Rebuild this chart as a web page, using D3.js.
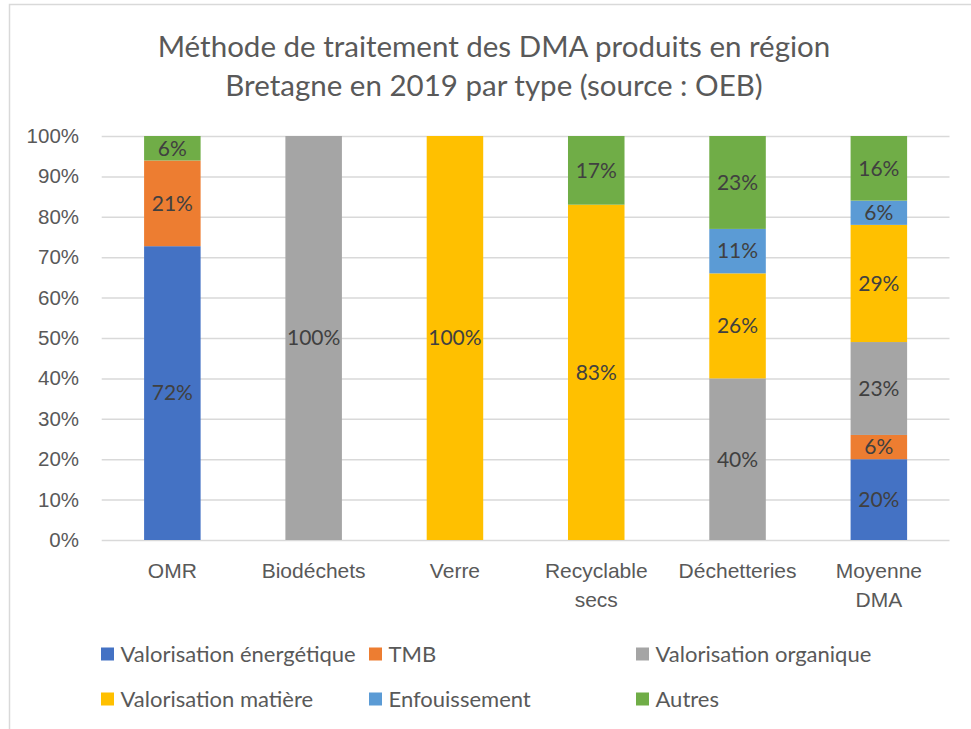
<!DOCTYPE html>
<html>
<head>
<meta charset="utf-8">
<script src="https://cdn.jsdelivr.net/npm/d3@7"></script>
<style>
  html, body { margin: 0; padding: 0; background: #fff; }
  svg { display: block; font-family: Lato, "Noto Sans", sans-serif; }
</style>
</head>
<body>
<svg id="chart" width="971" height="729"></svg>
<script>
// Treatment methods of household waste (DMA), Bretagne 2019, by waste type
const categories = ["OMR", "Biodéchets", "Verre", "Recyclable secs", "Déchetteries", "Moyenne DMA"];
const seriesNames = ["Valorisation énergétique", "TMB", "Valorisation organique", "Valorisation matière", "Enfouissement", "Autres"];
const seriesColors = ["#4472C4", "#ED7D31", "#A5A5A5", "#FFC000", "#5B9BD5", "#70AD47"];

// Share (%) of each method, one array per series, aligned with categories
const valorisationEnergetique = [72, 0, 0, 0, 0, 20];
const tmb                     = [21, 0, 0, 0, 0, 6];
const valorisationOrganique   = [0, 100, 0, 0, 40, 23];
const valorisationMatiere     = [0, 0, 100, 83, 26, 29];
const enfouissement           = [0, 0, 0, 0, 11, 6];
const autres                  = [6, 0, 0, 17, 23, 16];

const yTicks = [0, 0.1, 0.2, 0.3, 0.4, 0.5, 0.6, 0.7, 0.8, 0.9, 1];
const titleLines = ["Méthode de traitement des DMA produits en région", "Bretagne en 2019 par type (source : OEB)"];

const seriesValues = [valorisationEnergetique, tmb, valorisationOrganique, valorisationMatiere, enfouissement, autres];
const table = categories.map((c, i) => {
  const row = { category: c };
  seriesNames.forEach((s, j) => { row[s] = seriesValues[j][i]; });
  return row;
});

const svg = d3.select("#chart");
const W = 971, H = 729;
const plot = { left: 101.7, right: 949.5, top: 136, bottom: 540 };

// chart frame
svg.append("rect")
  .attr("x", 9.5).attr("y", 4.5).attr("width", W + 20).attr("height", H + 20)
  .attr("fill", "#fff").attr("stroke", "#d9d9d9").attr("stroke-width", 1.5);

const x = d3.scaleBand().domain(categories).range([plot.left, plot.right]).padding(0);
const y = d3.scaleLinear().domain([0, 1]).range([plot.bottom, plot.top]);
const barW = x.bandwidth() * 0.4;

// title
svg.append("g").selectAll("text").data(titleLines).join("text")
  .attr("x", 494).attr("y", (d, i) => 57 + i * 39)
  .attr("text-anchor", "middle")
  .attr("fill", "#595959")
  .style("font-size", "29.5px")
  .text(d => d);

// gridlines and y labels
const yAxis = d3.axisLeft(y).tickValues(yTicks).tickFormat(d3.format(".0%"))
  .tickSize(-(plot.right - plot.left)).tickPadding(22);
const gy = svg.append("g").attr("transform", `translate(${plot.left},0)`).call(yAxis);
gy.select(".domain").remove();
gy.selectAll(".tick line").attr("stroke", "#d9d9d9").attr("stroke-width", 1.5);
gy.selectAll(".tick text").attr("fill", "#595959").style("font-size", "20.5px")
  .attr("x", 79 - plot.left);

// stacked bars, normalised to 100 %
const stack = d3.stack().keys(seriesNames).offset(d3.stackOffsetExpand);
const layers = stack(table);

const gBars = svg.append("g");
layers.forEach((layer, j) => {
  const g = gBars.append("g").attr("fill", seriesColors[j]);
  g.selectAll("rect").data(layer.filter(d => d.data[layer.key] > 0)).join("rect")
    .attr("x", d => x(d.data.category) + (x.bandwidth() - barW) / 2)
    .attr("width", barW)
    .attr("y", d => y(d[1]))
    .attr("height", d => y(d[0]) - y(d[1]));
});

// data labels
const gLabels = svg.append("g");
layers.forEach(layer => {
  gLabels.append("g").selectAll("text").data(layer.filter(d => d.data[layer.key] > 0)).join("text")
    .attr("x", d => x(d.data.category) + x.bandwidth() / 2)
    .attr("y", d => (y(d[0]) + y(d[1])) / 2)
    .attr("dy", "0.35em")
    .attr("text-anchor", "middle")
    .attr("fill", "#404040")
    .style("font-size", "21px")
    .text(d => d.data[layer.key] + "%");
});

// x axis category labels, wrapped to the band width
const xAxis = d3.axisBottom(x).tickSize(0).tickPadding(0);
const gx = svg.append("g").attr("transform", `translate(0,${plot.bottom})`).call(xAxis);
gx.select(".domain").remove();
gx.selectAll(".tick text").attr("fill", "#595959").style("font-size", "21px")
  .each(function (d) {
    const t = d3.select(this);
    const words = d.split(" ");
    t.text(null);
    const lines = [];
    let cur = [];
    words.forEach(w => {
      const test = cur.concat(w).join(" ");
      const probe = t.append("tspan").text(test);
      const wd = probe.node().getComputedTextLength();
      probe.remove();
      if (wd > x.bandwidth() - 10 && cur.length) { lines.push(cur.join(" ")); cur = [w]; }
      else cur.push(w);
    });
    lines.push(cur.join(" "));
    t.attr("y", 0).attr("dy", null);
    lines.forEach((ln, i) => {
      t.append("tspan").attr("x", 0).attr("y", 31 + i * 29).attr("dy", "0.35em").text(ln);
    });
  });

// legend: two rows of three
const legendCols = [101, 369, 636];
const legendRows = [654, 699];
const legend = svg.append("g").selectAll("g").data(seriesNames).join("g")
  .attr("transform", (d, i) => `translate(${legendCols[i % 3]},${legendRows[Math.floor(i / 3)]})`);
legend.append("rect").attr("x", 0).attr("y", -6.5).attr("width", 13).attr("height", 13)
  .attr("fill", (d, i) => seriesColors[i]);
legend.append("text").attr("x", 19.5).attr("dy", "0.35em")
  .attr("fill", "#595959").style("font-size", "22px")
  .text(d => d);
</script>
</body>
</html>
